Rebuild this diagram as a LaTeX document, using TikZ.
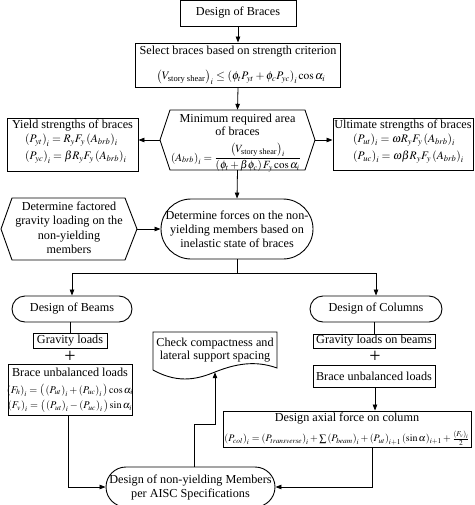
\documentclass[tikz,border=0pt]{standalone}
\usepackage{amsmath}
\usepackage{mathptmx}
\usepackage{fontspec}
\setmainfont{Liberation Serif}
\usetikzlibrary{arrows.meta}
\tikzset{
  box/.style={draw, line width=0.9pt, inner sep=0pt, align=center, font=\fontsize{12.2}{14}\selectfont},
  shapeonly/.style={inner sep=0pt},
  conn/.style={line width=0.8pt},
  arr/.style={line width=0.8pt, -{Triangle[length=6pt,width=4.5pt]}},
  txt/.style={inner sep=0pt, align=center, font=\fontsize{12.2}{13.5}\selectfont},
  mth/.style={inner sep=0pt, font=\fontsize{10}{12}\selectfont},
  mthL/.style={inner sep=0pt, font=\fontsize{11.5}{12}\selectfont},
  plus/.style={inner sep=0pt, font=\fontsize{20}{20}\selectfont},
}
\begin{document}
\begin{tikzpicture}[x=1pt,y=-1pt]
\useasboundingbox (0,0) rectangle (474,505);

% top boxes
\node[box, minimum width=116, minimum height=26] (braces) at (238,13) {Design of Braces};
\node[box, minimum width=205, minimum height=44] (select) at (238,65) {};
\node[txt] (selectT) at (238,52) {Select braces based on strength criterion};
\node[mthL] (selectF) at (241,77) {$\left(V_{\text{story shear}}\right)_i \le \left(\phi_t P_{yt} + \phi_c P_{yc}\right)_i \cos\alpha_i$};

% hexagon minimum area
\draw[line width=0.9pt] (160,140) -- (170,110) -- (305,110) -- (315,140) -- (305,170) -- (170,170) -- cycle;
\node[shapeonly, minimum width=155, minimum height=60] (minarea) at (237.5,140) {};
\node[txt, font=\fontsize{12.2}{13}\selectfont] (minT) at (237.5,125) {Minimum required area\\of braces};
\node[inner sep=0pt, font=\fontsize{11}{12}\selectfont] (minF) at (236,157.5) {$\left(A_{brb}\right)_i = \dfrac{\left(V_{\text{story shear}}\right)_i}{(\phi_t+\beta\phi_c)\,F_y\cos\alpha_i}$};

% yield box
\node[box, minimum width=131, minimum height=53] (yield) at (72.5,144.5) {};
\node[txt] (yieldT) at (72.5,126) {Yield strengths of braces};
\node[mthL, anchor=west] (yieldF1) at (25,140) {$\left(P_{yt}\right)_i = R_y F_y \left(A_{brb}\right)_i$};
\node[mthL, anchor=west] (yieldF2) at (25,157) {$\left(P_{yc}\right)_i = \beta R_y F_y \left(A_{brb}\right)_i$};

% ultimate box
\node[box, minimum width=140, minimum height=52] (ult) at (403,144) {};
\node[txt] (ultT) at (403,126) {Ultimate strengths of braces};
\node[mthL, anchor=west] (ultF1) at (353,140) {$\left(P_{ut}\right)_i = \omega R_y F_y \left(A_{brb}\right)_i$};
\node[mthL, anchor=west] (ultF2) at (353,157) {$\left(P_{uc}\right)_i = \omega\beta R_y F_y \left(A_{brb}\right)_i$};

% factored hexagon
\draw[line width=0.9pt] (1,229) -- (12,198) -- (125,198) -- (137,229) -- (125,260) -- (12,260) -- cycle;
\node[shapeonly, minimum width=136, minimum height=62] (factored) at (69,229) {};
\node[txt, font=\fontsize{12.2}{14.5}\selectfont] (factT) at (69,228) {Determine factored\\gravity loading on the\\non-yielding\\members};

% forces stadium
\node[box, rounded corners=30, minimum width=152, minimum height=60] (forces) at (237,229) {};
\node[txt, font=\fontsize{12.2}{14}\selectfont] (forcesT) at (237,229) {Determine forces on the non-\\yielding members based on\\inelastic state of braces};

% beams column
\node[box, rounded corners=13, minimum width=120, minimum height=26] (beams) at (72,309) {Design of Beams};
\node[box, minimum width=74, minimum height=15] (grav) at (70,340.5) {Gravity loads};
\node[plus] (plusL) at (70,357) {+};
\node[box, minimum width=124, minimum height=51] (braceL) at (70,389.5) {};
\node[txt] (braceLT) at (70,372) {Brace unbalanced loads};
\node[inner sep=0pt, font=\fontsize{10.3}{12}\selectfont] (braceLF1) at (70,390.5) {$\left(F_h\right)_i = \big(\left(P_{ut}\right)_i + \left(P_{uc}\right)_i\big)\cos\alpha_i$};
\node[inner sep=0pt, font=\fontsize{10.3}{12}\selectfont] (braceLF2) at (70,406) {$\left(F_v\right)_i = \big(\left(P_{ut}\right)_i - \left(P_{uc}\right)_i\big)\sin\alpha_i$};

% columns column
\node[box, rounded corners=13, minimum width=132, minimum height=26] (cols) at (376,309) {Design of Columns};
\node[box, minimum width=122, minimum height=14] (gravB) at (374,341) {Gravity loads on beams};
\node[plus] (plusR) at (375,357) {+};
\node[box, minimum width=122, minimum height=22] (braceR) at (374,376) {Brace unbalanced loads};
\node[box, minimum width=248, minimum height=36] (axial) at (347,429) {};
\node[txt] (axialT) at (347,419) {Design axial force on column};
\node[mth] (axialF) at (347,438) {$\left(P_{col}\right)_i = \left(P_{transverse}\right)_i + \sum\left(P_{beam}\right)_i + \left(P_{ut}\right)_{i+1}(\sin\alpha)_{i+1} + \frac{\left(F_v\right)_i}{2}$};

% check compactness document shape
\draw[line width=0.9pt] (153,370) -- (153,332) -- (277,332) -- (277,368)
  .. controls (255,360) and (235,364) .. (215,372)
  .. controls (200,378) and (180,385) .. (153,370);
\node[shapeonly, minimum width=124, minimum height=40] (check) at (215,352) {};
\node[txt] (checkT) at (215,350) {Check compactness and\\lateral support spacing};

% non-yielding stadium
\node[box, rounded corners=20, minimum width=169, minimum height=40] (nonyield) at (190.5,487) {Design of non-yielding Members\\per AISC Specifications};

% connectors
\draw[arr] (braces.south) -- (braces.south |- select.north);
\draw[arr] (select.south) -- (minarea.north);
\draw[arr] (minarea.west) -- (minarea.west -| yield.east);
\draw[arr] (minarea.east) -- (minarea.east -| ult.west);
\draw[arr] (minarea.south) -- (forces.north);
\draw[arr] (factored.east) -- (forces.west);
\draw[conn] (forces.south) -- ++(0,14) coordinate (split);
\draw[arr] (split) -| (beams.north);
\draw[arr] (split) -| (cols.north);
\draw[conn] (beams.south -| grav.north) -- (grav.north);
\draw[conn] (cols.south -| gravB.north) -- (gravB.north);
\draw[arr] ([xshift=1pt]braceR.south) -- ([xshift=1pt]braceR.south |- axial.north);
\draw[arr] ([xshift=25pt]axial.south) |- (nonyield.east);
\draw[arr] ([xshift=-2pt]braceL.south) |- (nonyield.west);
\draw[arr] ([xshift=3.5pt]nonyield.north) -- ++(0,-42) -| (check.south);
\end{tikzpicture}
\end{document}
